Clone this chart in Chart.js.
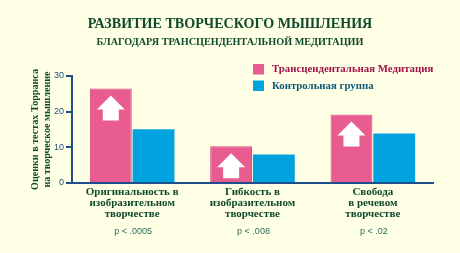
<!DOCTYPE html>
<html><head><meta charset="utf-8">
<script src="https://cdn.jsdelivr.net/npm/chart.js@4"></script>
<style>
html,body{margin:0;padding:0;background:#FFFFE6;}
#wrap{width:460px;height:253px;position:relative;}
</style></head>
<body><div id="wrap"><canvas id="c" width="460" height="253"></canvas></div>
<script>
const titleLines = ["РАЗВИТИЕ ТВОРЧЕСКОГО МЫШЛЕНИЯ", "БЛАГОДАРЯ ТРАНСЦЕНДЕНТАЛЬНОЙ МЕДИТАЦИИ"];
const categories = [
  ["Оригинальность в", "изобразительном", "творчестве"],
  ["Гибкость в", "изобразительном", "творчестве"],
  ["Свобода", "в речевом", "творчестве"]
];
const pValues = ["p < .0005", "p < .008", "p < .02"];
const seriesNames = ["Трансцендентальная Медитация", "Контрольная группа"];
const tmValues = [26.5, 10.3, 19.2];
const controlValues = [15.1, 8.0, 13.9];
const yTicks = [0, 10, 20, 30];
const yTitle = ["Оценки в тестах Торранса", "на творческое мышление"];

const PINK = "#E95C90", PINK_B = "#D9457A", BLUE = "#00A3E0";
const GREEN = "#0F4A2A", AXIS = "#1F4E8C";

const decor = {
  id: "decor",
  afterDatasetsDraw(chart) {
    const ctx = chart.ctx;
    const meta = chart.getDatasetMeta(0);
    ctx.save();
    ctx.fillStyle = "#FFFFFF";
    meta.data.forEach(bar => {
      const cx = bar.x, top = bar.y + 7;
      const hw = 14, hh = 14, sw = 8, sh = 11;
      ctx.beginPath();
      ctx.moveTo(cx, top);
      ctx.lineTo(cx + hw, top + hh);
      ctx.lineTo(cx + sw, top + hh);
      ctx.lineTo(cx + sw, top + hh + sh);
      ctx.lineTo(cx - sw, top + hh + sh);
      ctx.lineTo(cx - sw, top + hh);
      ctx.lineTo(cx - hw, top + hh);
      ctx.closePath();
      ctx.fill();
    });
    ctx.restore();
  },
  afterDraw(chart) {
    const ctx = chart.ctx;
    ctx.save();
    ctx.fillStyle = GREEN;
    ctx.textAlign = "center";
    ctx.textBaseline = "middle";
    ctx.font = "bold 14.1px 'Liberation Serif'";
    ctx.fillText(titleLines[0], 230, 24);
    ctx.font = "bold 10.2px 'Liberation Serif'";
    ctx.fillText(titleLines[1], 230, 42);
    const colors = [PINK, BLUE];
    const tcolors = ["#A0124A", "#0E5878"];
    ctx.textAlign = "left";
    ctx.font = "bold 10.8px 'Liberation Serif'";
    chart.data.datasets.forEach((ds, i) => {
      const y = 64 + i * 16.5;
      ctx.fillStyle = colors[i];
      ctx.fillRect(253, y, 11, 10.5);
      ctx.fillStyle = tcolors[i];
      ctx.fillText(ds.label, 272, y + 5.5);
    });
    const xs = chart.scales.x;
    ctx.textAlign = "center";
    ctx.font = "9px 'Liberation Sans'";
    ctx.fillStyle = "#2A6A5C";
    pValues.forEach((p, i) => {
      ctx.fillText(p, xs.getPixelForValue(i) + 1, 232);
    });
    ctx.restore();
  }
};

new Chart(document.getElementById("c"), {
  type: "bar",
  data: {
    labels: categories,
    datasets: [
      { label: seriesNames[0], data: tmValues, backgroundColor: PINK, borderColor: PINK_B, borderWidth: 1 },
      { label: seriesNames[1], data: controlValues, backgroundColor: BLUE, borderColor: BLUE, borderWidth: 0 }
    ]
  },
  options: {
    responsive: false,
    animation: false,
    devicePixelRatio: 1,
    layout: { padding: { top: 76, right: 27, bottom: 0, left: 0 } },
    datasets: { bar: { categoryPercentage: 0.71, barPercentage: 0.98 } },
    plugins: { legend: { display: false }, title: { display: false }, tooltip: { enabled: false } },
    scales: {
      x: {
        grid: { display: false, drawTicks: false },
        border: { color: AXIS, width: 2 },
        ticks: {
          color: GREEN,
          font: { family: "'Liberation Serif'", weight: "bold", size: 11, lineHeight: 0.98 },
          padding: 4,
          maxRotation: 0,
          autoSkip: false
        },
        afterFit(s) { s.height = 70; }
      },
      y: {
        min: 0, max: 30,
        afterBuildTicks(s) { s.ticks = yTicks.map(v => ({ value: v })); },
        grid: { drawOnChartArea: false, color: AXIS, lineWidth: 2, tickLength: 6 },
        border: { color: AXIS, width: 2 },
        ticks: { color: "#1F4E7A", font: { family: "'Liberation Sans'", size: 9 }, padding: 2 },
        title: {
          display: true,
          text: yTitle,
          color: GREEN,
          font: { family: "'Liberation Serif'", weight: "bold", size: 10.1, lineHeight: 1.15 },
          padding: { top: 30, bottom: 0 }
        },
        afterFit(s) { s.width = 72; }
      }
    }
  },
  plugins: [decor]
});
</script></body></html>
